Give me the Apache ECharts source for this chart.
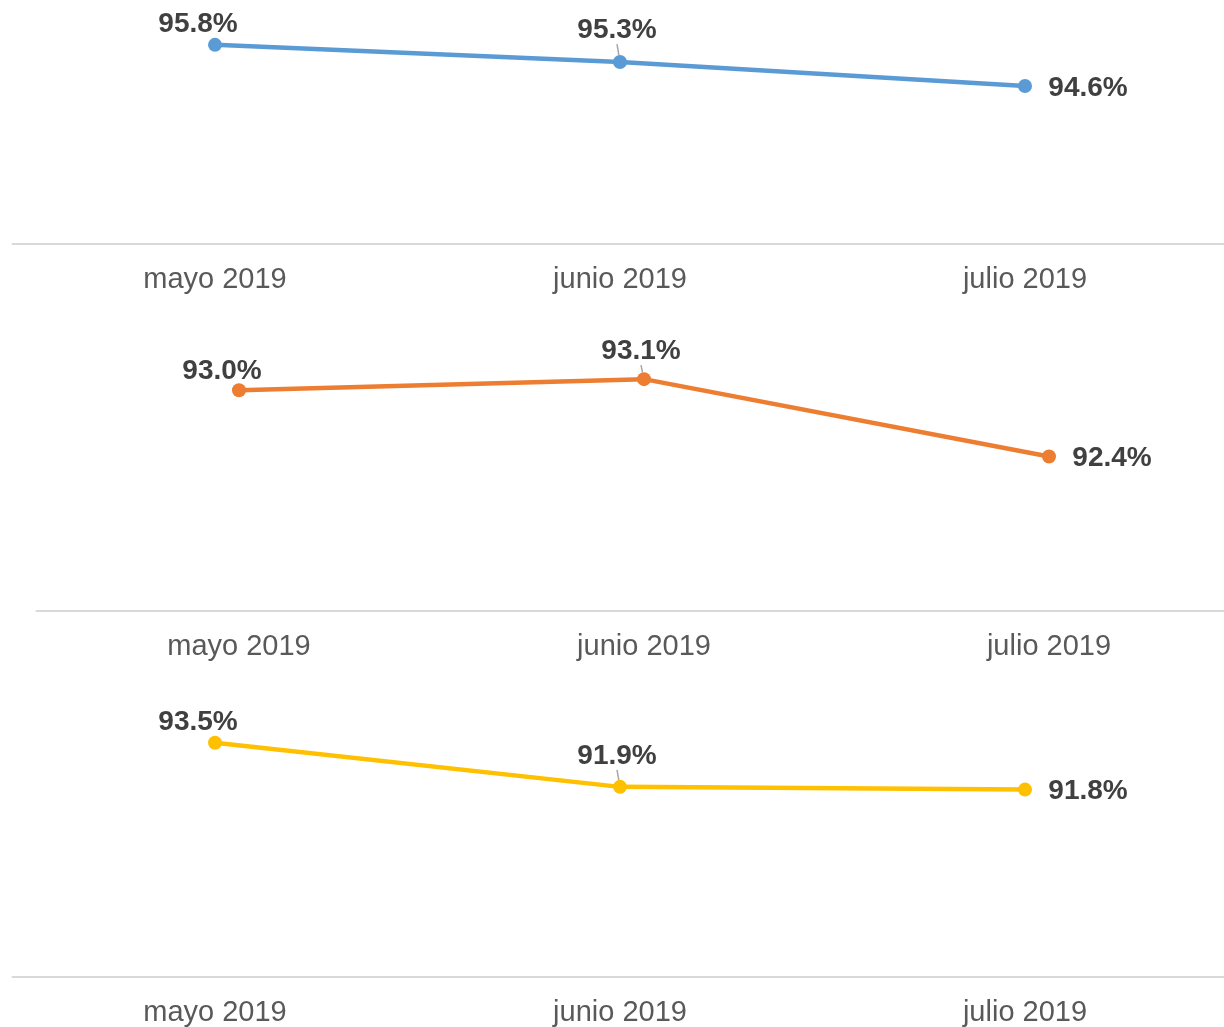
<!DOCTYPE html>
<html>
<head>
<meta charset="utf-8">
<script src="https://cdn.jsdelivr.net/npm/echarts@6/dist/echarts.min.js"></script>
<style>
  html, body { margin: 0; padding: 0; background: #ffffff; }
  #chart { width: 1224px; height: 1027px; }
</style>
</head>
<body>
<div id="chart"></div>
<script>
// Monthly percentages, three indicators
const months = ['mayo 2019', 'junio 2019', 'julio 2019'];
const serieA = [95.8, 95.3, 94.6];
const serieB = [93.0, 93.1, 92.4];
const serieC = [93.5, 91.9, 91.8];

// Panel geometry and label placement (offsets of each label centre from its point)
const panels = [
  { data: serieA, color: '#5b9bd5', top: 38,  height: 206, left: 12.5, min: 90, max: 96 },
  { data: serieB, color: '#ed7d31', top: 335, height: 276, left: 36.5, min: 91, max: 93.5 },
  { data: serieC, color: '#ffc000', top: 729, height: 248, left: 12.5, min: 85, max: 94 }
];
const labelShift = [
  [[-17, -21], [-3, -32], [63, 2]],
  [[-17, -19], [-3, -28], [63, 2]],
  [[-17, -20], [-3, -31], [63, 2]]
];
const bandWidth = 405;

const chart = echarts.init(document.getElementById('chart'));

const grids = [], xAxes = [], yAxes = [], series = [];
panels.forEach((p, i) => {
  grids.push({
    left: p.left,
    top: p.top,
    width: bandWidth * months.length,
    height: p.height,
    containLabel: false,
    outerBoundsMode: 'none'
  });
  xAxes.push({
    type: 'category',
    gridIndex: i,
    data: months,
    boundaryGap: true,
    axisLine: { show: true, lineStyle: { color: '#d9d9d9', width: 2 } },
    axisTick: { show: false },
    axisLabel: {
      color: '#595959',
      fontFamily: 'Liberation Sans, Arial, sans-serif',
      fontSize: 29,
      margin: 21
    },
    splitLine: { show: false }
  });
  yAxes.push({ type: 'value', gridIndex: i, min: p.min, max: p.max, show: false });
  const shifts = labelShift[i];
  series.push({
    type: 'line',
    xAxisIndex: i,
    yAxisIndex: i,
    data: p.data.map((v, k) => ({
      value: v,
      labelLine: { show: k === 1, length2: 0, lineStyle: { color: '#a6a6a6', width: 1.5 } }
    })),
    symbol: 'circle',
    symbolSize: 14,
    lineStyle: { color: p.color, width: 4.5 },
    itemStyle: { color: p.color },
    label: {
      show: true,
      position: 'inside',
      formatter: (d) => d.value.toFixed(1) + '%',
      color: '#404040',
      fontWeight: 'bold',
      fontFamily: 'Liberation Sans, Arial, sans-serif',
      fontSize: 28
    },
    labelLayout: (params) => ({ dx: shifts[params.dataIndex][0], dy: shifts[params.dataIndex][1] }),
    emphasis: { disabled: true },
    animation: false
  });
});

chart.setOption({
  backgroundColor: '#ffffff',
  animation: false,
  grid: grids,
  xAxis: xAxes,
  yAxis: yAxes,
  series: series
});
</script>
</body>
</html>
